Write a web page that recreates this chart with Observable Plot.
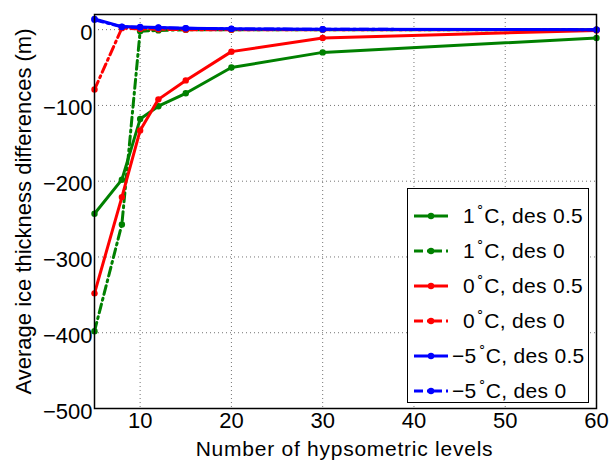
<!DOCTYPE html>
<html>
<head>
<meta charset="utf-8">
<script src="https://cdn.jsdelivr.net/npm/d3@7"></script>
<script src="https://cdn.jsdelivr.net/npm/@observablehq/plot@0.6"></script>
<style>
  body { margin: 0; background: #fff; }
  #wrap { position: relative; width: 609px; height: 460px; font-family: "Liberation Sans", Arial, sans-serif; }
  #legend { position: absolute; left: 407px; top: 188px; width: 182px; height: 215px; border: 1.5px solid #000; background: #fff; box-sizing: border-box; }
  .row { position: absolute; left: 0; height: 30px; display: flex; align-items: center; font-size: 21px; letter-spacing: 0.3px; color: #000; white-space: nowrap; }
  .row svg { margin-left: 6px; }
  .deg { font-size: 13px; position: relative; top: -11px; margin: 0 0 0 1px; }
</style>
</head>
<body>
<div id="wrap"></div>
<script>
const levels = [5, 8, 10, 12, 15, 20, 30, 60];
const c1des05 = [-243, -198, -118, -101, -84, -50, -30, -11];
const c1des0  = [-398, -257, -2, -1, 0, 0, 0, 0];
const c0des05 = [-348, -221, -133, -92, -67, -29, -11, -1];
const c0des0  = [-79, 2, 1, 0.5, 0, 0, 0, 0];
const m5des05 = [14, 4, 3.5, 3, 2, 1.2, 0.5, 0];
const m5des0  = [13, 3.5, 3, 2.5, 1.8, 1, 0.5, 0];
const seriesNames = ["1°C, des 0.5", "1°C, des 0", "0°C, des 0.5", "0°C, des 0", "−5°C, des 0.5", "−5°C, des 0"];
const seriesValues = [c1des05, c1des0, c0des05, c0des0, m5des05, m5des0];
const seriesColors = ["#008000", "#008000", "#ff0000", "#ff0000", "#0000ff", "#0000ff"];
const seriesDashed = [false, true, false, true, false, true];
const xTicks = [10, 20, 30, 40, 50, 60];
const yTicks = [0, -100, -200, -300, -400, -500];
const xLabel = "Number of hypsometric levels";
const yLabel = "Average ice thickness differences (m)";

const data = [];
seriesNames.forEach((name, i) => {
  levels.forEach((x, j) => data.push({series: name, x, y: seriesValues[i][j], idx: i}));
});

const marks = [
  Plot.gridX(xTicks, {stroke: "#000", strokeOpacity: 0.55, strokeDasharray: "1,3"}),
  Plot.gridY(yTicks, {stroke: "#000", strokeOpacity: 0.55, strokeDasharray: "1,3"}),
  Plot.axisX(xTicks, {tickSize: 0, tickPadding: 4, tickFormat: d3.format("d"), label: null, fontSize: 22}),
  Plot.axisY(yTicks, {tickSize: 0, tickPadding: 2, tickFormat: d3.format("d"), label: null, fontSize: 22, dy: 3}),
  Plot.text([yLabel], {frameAnchor: "left", dx: -71, rotate: -90, fontSize: 22, textAnchor: "middle", letterSpacing: "0.1px"}),
  Plot.text([xLabel], {frameAnchor: "bottom", dy: 41, fontSize: 21, textAnchor: "middle", lineAnchor: "middle", dx: -1})
];
seriesNames.forEach((name, i) => {
  const d = data.filter(r => r.idx === i);
  marks.push(Plot.line(d, {x: "x", y: "y", stroke: seriesColors[i], strokeWidth: 3,
    strokeDasharray: seriesDashed[i] ? "9,4,2,4" : null, strokeLinejoin: "round"}));
  marks.push(Plot.dot(d, {x: "x", y: "y", fill: seriesColors[i], r: 3.2, stroke: null}));
});
marks.push(Plot.frame({stroke: "#000", strokeWidth: 1.5}));

const chart = Plot.plot({
  width: 609, height: 460,
  marginLeft: 94, marginRight: 13, marginTop: 14, marginBottom: 52,
  x: {domain: [5, 60]},
  y: {domain: [-500, 20]},
  style: {fontFamily: "Liberation Sans, Arial, sans-serif", fontSize: "21px", color: "#000", background: "#fff"},
  marks
});
const wrap = document.getElementById("wrap");
wrap.appendChild(chart);
// widen x label letter spacing to match reference
chart.querySelectorAll("text").forEach(t => { if (t.textContent === xLabel) t.setAttribute("letter-spacing", "0.75"); });

const legend = document.createElement("div");
legend.id = "legend";
seriesNames.forEach((name, i) => {
  const row = document.createElement("div");
  row.className = "row";
  row.style.top = (12 + i * 35) + "px";
  const dash = seriesDashed[i] ? 'stroke-dasharray="9,4,2,4"' : "";
  const m = name.match(/^(.*?)°(.*)$/);
  const lead = m[1];
  const padLeft = lead.startsWith("−") ? 4 : 15;
  row.innerHTML = `<svg width="34" height="12"><line x1="0" y1="6" x2="34" y2="6" stroke="${seriesColors[i]}" stroke-width="3" ${dash}/><circle cx="17" cy="6" r="3.2" fill="${seriesColors[i]}"/></svg>` +
    `<span style="margin-left:${padLeft}px">${lead}</span><span class="deg">∘</span><span>${m[2]}</span>`;
  legend.appendChild(row);
});
wrap.appendChild(legend);
</script>
</body>
</html>
